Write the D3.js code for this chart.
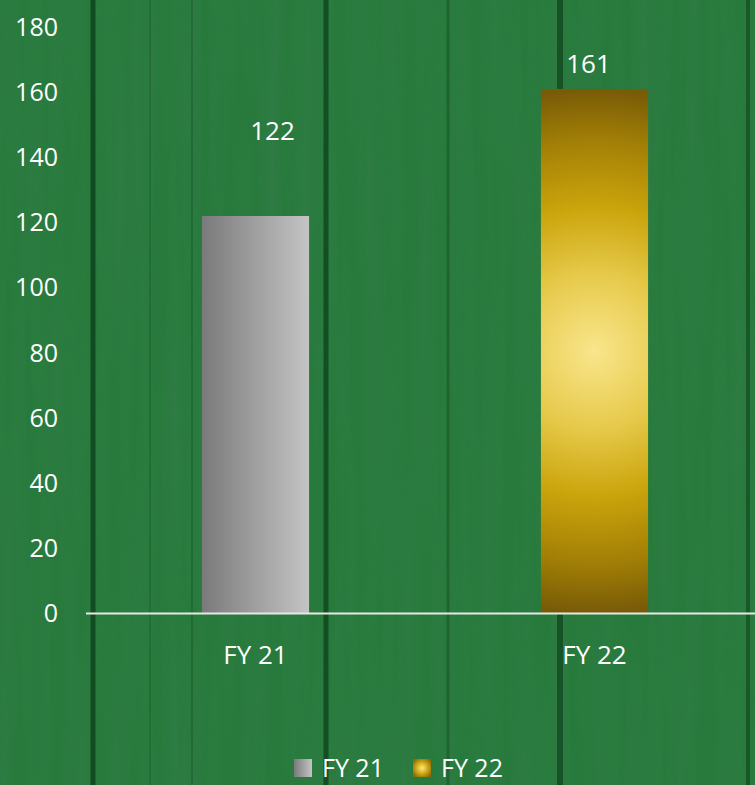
<!DOCTYPE html>
<html>
<head>
<meta charset="utf-8">
<script src="https://cdn.jsdelivr.net/npm/d3@7"></script>
<style>
html,body{margin:0;padding:0;background:#277a3b;overflow:hidden;}
svg{display:block;}
text{font-family:"Open Sans","Noto Sans",sans-serif;fill:#fff;}
</style>
</head>
<body>
<svg id="chart" width="755" height="785"></svg>
<script>
// ---- data ----
const categories = ["FY 21", "FY 22"];
const values = [122, 161];
const yTicks = [0, 20, 40, 60, 80, 100, 120, 140, 160, 180];
const legendLabels = ["FY 21", "FY 22"];

// ---- layout / style ----
const W = 755, H = 785;
const yDomain = [0, 180];
const plot = {left: 86, right: 764, top: 27, bottom: 613.5};
const labelNudge = [[17, -76], [-6, -16]]; // manual data-label offsets as in reference
const fills = ["url(#gGray)", "url(#gGold)"];

const svg = d3.select("#chart");
const defs = svg.append("defs");

// gray horizontal gradient
const gg = defs.append("linearGradient").attr("id", "gGray").attr("x1", 0).attr("x2", 1).attr("y1", 0).attr("y2", 0);
gg.append("stop").attr("offset", "0%").attr("stop-color", "#7a7a7a");
gg.append("stop").attr("offset", "100%").attr("stop-color", "#c4c4c4");

// wood texture filter
const f = defs.append("filter").attr("id", "wood").attr("x", 0).attr("y", 0).attr("width", "100%").attr("height", "100%");
f.append("feTurbulence").attr("type", "fractalNoise").attr("baseFrequency", "0.06 0.003").attr("numOctaves", 3).attr("seed", 7).attr("result", "n");
f.append("feColorMatrix").attr("in", "n").attr("type", "matrix")
  .attr("values", "0 0 0 0 0.05  0 0 0 0 0.22  0 0 0 0 0.1  0.9 0 0 0 -0.25");

// background
svg.append("rect").attr("width", W).attr("height", H).attr("fill", "#277a3b");
svg.append("rect").attr("width", W).attr("height", H).attr("filter", "url(#wood)").attr("opacity", 0.55);

// plank seams
const seams = [{x: 93, w: 5, o: 0.75}, {x: 326, w: 5, o: 0.7}, {x: 448, w: 3, o: 0.35}, {x: 560, w: 6, o: 0.65}, {x: 748, w: 4, o: 0.55}, {x: 192, w: 2, o: 0.25}, {x: 150, w: 2, o: 0.2}];
svg.append("g").selectAll("rect").data(seams).join("rect")
  .attr("x", d => d.x - d.w / 2).attr("y", 0).attr("width", d => d.w).attr("height", H)
  .attr("fill", "#0b3d18").attr("opacity", d => d.o);

// scales
const y = d3.scaleLinear().domain(yDomain).range([plot.bottom, plot.top]);
const x = d3.scaleBand().domain(categories).range([plot.left, plot.right]).paddingInner(0.684).paddingOuter(0.342);

// gold radial gradient in user space, centered on the FY22 bar
const i2 = 1;
const gx = x(categories[i2]) + x.bandwidth() / 2;
const gy = (y(values[i2]) + y(0)) / 2;
const gr = (y(0) - y(values[i2])) / 2;
const gold = defs.append("radialGradient").attr("id", "gGold").attr("gradientUnits", "userSpaceOnUse")
  .attr("cx", gx).attr("cy", gy).attr("r", gr);
[["0%", "#f9e68c"], ["30%", "#e6c94a"], ["55%", "#cba50c"], ["80%", "#a38006"], ["100%", "#785b07"]]
  .forEach(s => gold.append("stop").attr("offset", s[0]).attr("stop-color", s[1]));
const goldL = defs.append("radialGradient").attr("id", "gGoldL").attr("cx", "50%").attr("cy", "50%").attr("r", "60%");
[["0%", "#f9e68c"], ["45%", "#d9b41e"], ["100%", "#8c6c06"]]
  .forEach(s => goldL.append("stop").attr("offset", s[0]).attr("stop-color", s[1]));

// y axis tick labels
svg.append("g").selectAll("text").data(yTicks).join("text")
  .attr("x", 58).attr("y", d => y(d)).attr("dy", "0.35em")
  .attr("text-anchor", "end").attr("font-size", 25).text(d => d);

// bars
svg.append("g").selectAll("rect").data(values).join("rect")
  .attr("x", (d, i) => x(categories[i])).attr("width", x.bandwidth())
  .attr("y", d => y(d)).attr("height", d => y(0) - y(d))
  .attr("fill", (d, i) => fills[i]);

// baseline
svg.append("line").attr("x1", plot.left).attr("x2", W).attr("y1", y(0)).attr("y2", y(0))
  .attr("stroke", "#e8e8e8").attr("stroke-width", 2);

// value labels
svg.append("g").selectAll("text").data(values).join("text")
  .attr("x", (d, i) => x(categories[i]) + x.bandwidth() / 2 + labelNudge[i][0])
  .attr("y", (d, i) => y(d) + labelNudge[i][1])
  .attr("text-anchor", "middle").attr("font-size", 26).text(d => d);

// category labels
svg.append("g").selectAll("text").data(categories).join("text")
  .attr("x", d => x(d) + x.bandwidth() / 2).attr("y", 664)
  .attr("text-anchor", "middle").attr("font-size", 26).text(d => d);

// legend
const legendX = [294, 413];
const legendFills = ["url(#gGray)", "url(#gGoldL)"];
const lg = svg.append("g").selectAll("g").data(legendLabels).join("g")
  .attr("transform", (d, i) => `translate(${legendX[i]},0)`);
lg.append("rect").attr("x", 0).attr("y", 759).attr("width", 18).attr("height", 18).attr("fill", (d, i) => legendFills[i]);
lg.append("text").attr("x", 28).attr("y", 777).attr("font-size", 25).text(d => d);
</script>
</body>
</html>
